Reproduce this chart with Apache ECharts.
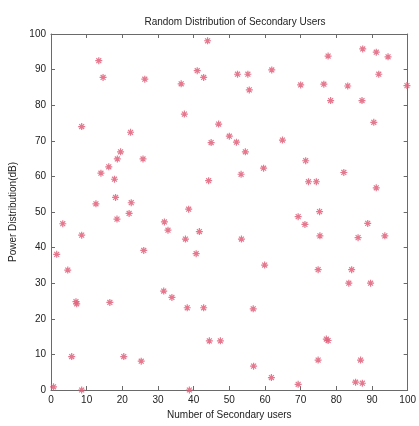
<!DOCTYPE html>
<html lang="en">
<head>
    <meta charset="UTF-8">
    <title>Random Distribution of Secondary Users</title>
    <script src="https://cdn.jsdelivr.net/npm/echarts@6/dist/echarts.min.js"></script>
    <style>
        html, body { margin: 0; padding: 0; background: #fff; }
        #chart { width: 419px; height: 426px; }
    </style>
</head>
<body>
    <div id="chart"></div>
    <script>
        // positions of the secondary users
        var userX = [0.7, 1.6, 3.3, 4.7, 5.8, 7.2, 7.0, 8.6, 8.6, 8.6,
            12.6, 13.4, 14.0, 14.6, 16.2, 16.5, 17.8, 18.1, 18.5, 18.6,
            19.5, 20.4, 21.9, 22.5, 22.3, 25.3, 25.8, 26.0, 26.3, 31.6,
            31.8, 32.8, 33.9, 36.5, 37.4, 37.7, 38.2, 38.6, 38.8, 40.7,
            41.0, 41.6, 42.8, 42.8, 43.9, 44.2, 44.4, 44.9, 47.0, 47.5,
            50.0, 52.0, 52.3, 53.3, 53.4, 54.5, 55.2, 55.6, 56.7, 56.8,
            59.6, 59.9, 61.8, 61.9, 64.9, 69.3, 69.3, 70.0, 71.2, 71.4,
            72.2, 74.4, 74.9, 74.9, 75.3, 75.4, 76.5, 77.7, 77.7, 77.2,
            78.4, 82.1, 83.2, 83.5, 84.3, 85.4, 86.1, 86.8, 87.2, 87.3,
            87.4, 88.8, 89.6, 90.5, 91.2, 91.2, 91.9, 93.6, 94.5, 99.8];
        var userPower = [0.9, 38.1, 46.7, 33.7, 9.4, 24.2, 24.8, 0.0, 43.5, 74.0,
            52.3, 92.5, 60.9, 87.8, 62.7, 24.6, 59.2, 54.1, 48.0, 64.9,
            66.9, 9.4, 49.6, 52.6, 72.4, 8.1, 64.9, 39.2, 87.3, 27.8,
            47.2, 44.9, 26.0, 86.0, 77.5, 42.4, 23.1, 50.8, 0.0, 38.3,
            89.7, 44.5, 87.8, 23.1, 98.1, 58.8, 13.8, 69.5, 74.7, 13.8,
            71.3, 69.6, 88.7, 60.6, 42.4, 66.9, 88.7, 84.3, 22.8, 6.7,
            62.3, 35.1, 3.5, 89.9, 70.2, 48.7, 1.6, 85.7, 46.5, 64.4,
            58.5, 58.5, 33.8, 8.4, 50.1, 43.3, 85.9, 93.8, 13.9, 14.3,
            81.3, 61.1, 85.4, 30.0, 33.8, 2.2, 42.8, 8.4, 81.3, 1.9,
            95.8, 46.8, 30.0, 75.2, 94.9, 56.8, 88.7, 43.3, 93.6, 85.5];
        var tickLabels = [0, 10, 20, 30, 40, 50, 60, 70, 80, 90, 100];

        var points = userX.map(function (x, i) {
            return [x, userPower[i]];
        });

        var font = 'Liberation Sans';
        var boxColor = '#6a6a6a';

        function axisCommon(extra) {
            var a = {
                min: tickLabels[0],
                max: tickLabels[tickLabels.length - 1],
                interval: tickLabels[1] - tickLabels[0],
                axisLine: { show: true, onZero: false, lineStyle: { color: boxColor, width: 1 } },
                axisTick: { show: true, inside: true, length: 4, lineStyle: { color: boxColor } },
                splitLine: { show: false },
                axisLabel: { show: false }
            };
            for (var k in extra) a[k] = extra[k];
            return a;
        }

        var chart = echarts.init(document.getElementById('chart'));
        chart.setOption({
            backgroundColor: '#fff',
            animation: false,
            title: {
                text: 'Random Distribution of Secondary Users',
                left: 230,
                top: 12,
                textAlign: 'center',
                textStyle: { fontFamily: font, fontSize: 10, fontWeight: 'normal', color: '#222' }
            },
            grid: { left: 51, right: 10, top: 34, bottom: 36 },
            xAxis: [
                axisCommon({
                    type: 'value',
                    position: 'bottom',
                    name: 'Number of Secondary users',
                    nameLocation: 'middle',
                    nameGap: 19,
                    nameTextStyle: { fontFamily: font, fontSize: 10, color: '#222' },
                    axisLabel: { show: true, fontFamily: font, fontSize: 10, color: '#222', margin: 5 }
                }),
                axisCommon({ type: 'value', position: 'top' })
            ],
            yAxis: [
                axisCommon({
                    type: 'value',
                    position: 'left',
                    name: 'Power Distribution(dB)',
                    nameLocation: 'middle',
                    nameGap: 31,
                    nameTextStyle: { fontFamily: font, fontSize: 10, color: '#222' },
                    axisLabel: { show: true, fontFamily: font, fontSize: 10, color: '#222', margin: 5 }
                }),
                axisCommon({ type: 'value', position: 'right' })
            ],
            series: [{
                type: 'scatter',
                xAxisIndex: 0,
                yAxisIndex: 0,
                data: points,
                symbol: 'path://M0,-5L0,5M-5,0L5,0M-3.5,-3.5L3.5,3.5M-3.5,3.5L3.5,-3.5',
                symbolSize: 7,
                itemStyle: { color: 'none', borderColor: '#e0607a', borderWidth: 1.2, opacity: 0.85 }
            }]
        });
    </script>
</body>
</html>
